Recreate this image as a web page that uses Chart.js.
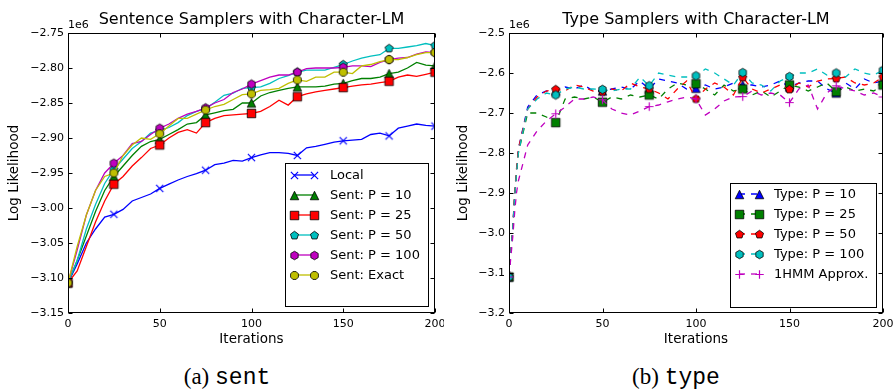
<!DOCTYPE html>
<html>
<head>
<meta charset="utf-8">
<script src="https://cdn.jsdelivr.net/npm/chart.js@4.4.1/dist/chart.umd.min.js"></script>
<style>
body { margin: 0; background: #fff; width: 894px; height: 389px; overflow: hidden; position: relative; }
#c1 { position: absolute; left: 0; top: 0; }
#c2 { position: absolute; left: 450px; top: 0; }
.cap { position: absolute; top: 365px; width: 240px; text-align: center; font-family: "Liberation Serif", serif; font-size: 23px; line-height: 23px; color: #000; }
.cap span { font-family: "Liberation Mono", monospace; }
</style>
</head>
<body>
<canvas id="c1" width="444" height="350"></canvas>
<canvas id="c2" width="444" height="350"></canvas>
<div class="cap" style="left:107px">(a) <span>sent</span></div>
<div class="cap" style="left:556px">(b) <span>type</span></div>
<script>
// values in units of 1e6
const ITERS = [0, 5, 10, 15, 20, 25, 30, 35, 40, 45, 50, 55, 60, 65, 70, 75, 80, 85, 90, 95, 100,
  105, 110, 115, 120, 125, 130, 135, 140, 145, 150, 155, 160, 165, 170, 175, 180, 185, 190, 195, 200];

const SENT_LABELS = ["Local", "Sent: P = 10", "Sent: P = 25", "Sent: P = 50", "Sent: P = 100", "Sent: Exact"];

const sentLocal = [-3.107, -3.080, -3.050, -3.030, -3.013, -3.009, -3.002, -2.990, -2.985, -2.980,
  -2.972, -2.966, -2.960, -2.955, -2.951, -2.946, -2.938, -2.936, -2.932, -2.933,
  -2.928, -2.924, -2.921, -2.921, -2.922, -2.925, -2.914, -2.912, -2.909, -2.906,
  -2.904, -2.903, -2.902, -2.895, -2.893, -2.897, -2.886, -2.883, -2.880, -2.882, -2.883];
const sentP10 = [-3.107, -3.075, -3.040, -3.005, -2.975, -2.955, -2.940, -2.925, -2.912, -2.905,
  -2.902, -2.895, -2.888, -2.880, -2.878, -2.867, -2.864, -2.861, -2.859, -2.850,
  -2.850, -2.840, -2.835, -2.832, -2.829, -2.827, -2.827, -2.827, -2.826, -2.823,
  -2.822, -2.818, -2.815, -2.815, -2.813, -2.808, -2.806, -2.800, -2.792, -2.796, -2.797];
const sentP25 = [-3.107, -3.090, -3.055, -3.020, -2.990, -2.966, -2.955, -2.940, -2.928, -2.915,
  -2.910, -2.900, -2.892, -2.888, -2.893, -2.878, -2.872, -2.868, -2.867, -2.866,
  -2.865, -2.862, -2.855, -2.846, -2.853, -2.841, -2.837, -2.834, -2.832, -2.830,
  -2.828, -2.826, -2.824, -2.823, -2.821, -2.819, -2.813, -2.810, -2.812, -2.809, -2.806];
const sentP50 = [-3.107, -3.075, -3.030, -2.995, -2.965, -2.945, -2.930, -2.915, -2.905, -2.893,
  -2.889, -2.885, -2.878, -2.868, -2.862, -2.858, -2.849, -2.839, -2.836, -2.829,
  -2.828, -2.827, -2.822, -2.815, -2.811, -2.806, -2.803, -2.803, -2.803, -2.799,
  -2.795, -2.790, -2.786, -2.783, -2.781, -2.772, -2.772, -2.770, -2.768, -2.765, -2.768];
const sentP100 = [-3.107, -3.060, -3.010, -2.975, -2.950, -2.936, -2.925, -2.908, -2.905, -2.895,
  -2.886, -2.880, -2.872, -2.866, -2.862, -2.857, -2.850, -2.845, -2.835, -2.830,
  -2.823, -2.818, -2.813, -2.810, -2.810, -2.806, -2.801, -2.800, -2.800, -2.800,
  -2.799, -2.797, -2.797, -2.798, -2.792, -2.788, -2.786, -2.785, -2.780, -2.777, -2.778];
const sentExact = [-3.107, -3.055, -3.010, -2.975, -2.955, -2.950, -2.925, -2.910, -2.900, -2.902,
  -2.894, -2.883, -2.872, -2.872, -2.866, -2.860, -2.855, -2.852, -2.845, -2.838,
  -2.837, -2.832, -2.831, -2.829, -2.822, -2.817, -2.819, -2.813, -2.813, -2.806,
  -2.806, -2.808, -2.797, -2.795, -2.791, -2.788, -2.788, -2.785, -2.781, -2.778, -2.778];

const TYPE_ITERS = [0, 1, 2, 3, 4, 5, 10, 15, 20, 25, 30, 35, 40, 45, 50, 55, 60, 65, 70, 75, 80, 85, 90, 95, 100,
  105, 110, 115, 120, 125, 130, 135, 140, 145, 150, 155, 160, 165, 170, 175, 180, 185, 190, 195, 200];

const TYPE_LABELS = ["Type: P = 10", "Type: P = 25", "Type: P = 50", "Type: P = 100", "1HMM Approx."];

const typeP10 = [-3.11, -3.05, -2.99, -2.91, -2.85, -2.79,
  -2.685, -2.655, -2.645, -2.645, -2.635, -2.640, -2.630, -2.645, -2.645, -2.640, -2.635, -2.640, -2.620, -2.640,
  -2.615, -2.620, -2.625, -2.640, -2.638, -2.630, -2.640, -2.635, -2.625, -2.630, -2.630, -2.635, -2.630, -2.620,
  -2.635, -2.625, -2.620, -2.620, -2.640, -2.650, -2.625, -2.640, -2.615, -2.625, -2.620];
const typeP25 = [-3.11, -3.05, -2.99, -2.91, -2.85, -2.80,
  -2.700, -2.700, -2.710, -2.724, -2.665, -2.660, -2.665, -2.660, -2.673, -2.660, -2.665, -2.655, -2.660, -2.655,
  -2.665, -2.640, -2.625, -2.630, -2.627, -2.640, -2.655, -2.630, -2.645, -2.640, -2.655, -2.645, -2.660, -2.645,
  -2.630, -2.635, -2.645, -2.635, -2.625, -2.647, -2.635, -2.645, -2.640, -2.645, -2.630];
const typeP50 = [-3.11, -3.05, -2.99, -2.90, -2.84, -2.79,
  -2.690, -2.660, -2.645, -2.641, -2.645, -2.630, -2.635, -2.645, -2.647, -2.640, -2.645, -2.625, -2.635, -2.640,
  -2.650, -2.665, -2.640, -2.620, -2.665, -2.640, -2.625, -2.635, -2.655, -2.611, -2.640, -2.650, -2.640, -2.630,
  -2.641, -2.625, -2.635, -2.620, -2.615, -2.614, -2.610, -2.625, -2.630, -2.625, -2.610];
const typeP100 = [-3.11, -3.05, -2.99, -2.91, -2.85, -2.80,
  -2.690, -2.665, -2.650, -2.655, -2.640, -2.635, -2.640, -2.640, -2.641, -2.645, -2.640, -2.640, -2.610, -2.632,
  -2.600, -2.605, -2.610, -2.610, -2.607, -2.590, -2.600, -2.615, -2.630, -2.599, -2.625, -2.630, -2.645, -2.620,
  -2.609, -2.600, -2.600, -2.590, -2.605, -2.600, -2.610, -2.590, -2.600, -2.605, -2.593];
const typeHmm = [-3.11, -3.06, -3.01, -2.95, -2.90, -2.87,
  -2.780, -2.745, -2.720, -2.702, -2.685, -2.665, -2.665, -2.660, -2.667, -2.690, -2.700, -2.705, -2.695, -2.684,
  -2.680, -2.672, -2.665, -2.660, -2.665, -2.705, -2.690, -2.670, -2.660, -2.659, -2.645, -2.655, -2.650, -2.655,
  -2.674, -2.640, -2.630, -2.690, -2.650, -2.632, -2.640, -2.645, -2.655, -2.650, -2.660];

Chart.defaults.font.family = "DejaVu Sans";
Chart.defaults.color = "#000";

// little marker pictures, matplotlib style
function makeMarker(shape, fill, size) {
  const s = Math.ceil(size) + 4;
  const c = document.createElement("canvas");
  c.width = s; c.height = s;
  const g = c.getContext("2d");
  const r = size / 2;
  g.translate(s / 2, s / 2);
  if (shape === "x" || shape === "+") {
    g.strokeStyle = fill;
    g.lineWidth = 1.2;
    if (shape === "x") g.rotate(Math.PI / 4);
    const rr = shape === "x" ? r * 1.2 : r;
    g.beginPath();
    g.moveTo(-rr, 0); g.lineTo(rr, 0);
    g.moveTo(0, -rr); g.lineTo(0, rr);
    g.stroke();
    return c;
  }
  g.beginPath();
  if (shape === "^") {
    g.moveTo(0, -r); g.lineTo(r, r); g.lineTo(-r, r);
  } else if (shape === "s") {
    g.rect(-r, -r, 2 * r, 2 * r);
  } else {
    let n = 5, start = -Math.PI / 2;
    if (shape === "h") n = 6;
    if (shape === "8") { n = 8; start += Math.PI / 8; }
    for (let i = 0; i < n; i++) {
      const a = start + i * 2 * Math.PI / n;
      if (i === 0) g.moveTo(r * Math.cos(a), r * Math.sin(a));
      else g.lineTo(r * Math.cos(a), r * Math.sin(a));
    }
  }
  g.closePath();
  g.fillStyle = fill;
  g.fill();
  g.strokeStyle = "#000";
  g.lineWidth = 0.8;
  g.stroke();
  return c;
}

const sentColors = ["#0000ff", "#008000", "#ff0000", "#00bfbf", "#bf00bf", "#bfbf00"];
const sentShapes = ["x", "^", "s", "p", "h", "8"];
const typeColors = ["#0000ff", "#008000", "#ff0000", "#00bfbf", "#bf00bf"];
const typeShapes = ["^", "s", "p", "h", "+"];

function fmtMinus(v, d) {
  return v.toFixed(d).replace("-", "\u2212");
}

const framePlugin = {
  id: "frame",
  afterDatasetsDraw(chart, args, opts) {
    const ctx = chart.ctx;
    const a = chart.chartArea;
    const xs = chart.scales.x, ys = chart.scales.y;
    ctx.save();
    ctx.strokeStyle = "#000";
    ctx.lineWidth = 1;
    const L = Math.round(a.left) + 0.5, R = Math.round(a.right) - 0.5;
    const T = Math.round(a.top) + 0.5, B = Math.round(a.bottom) - 0.5;
    ctx.strokeRect(L, T, R - L, B - T);
    ctx.beginPath();
    xs.ticks.forEach(t => {
      const px = Math.round(xs.getPixelForValue(t.value)) + 0.5;
      ctx.moveTo(px, B); ctx.lineTo(px, B - 4);
      ctx.moveTo(px, T); ctx.lineTo(px, T + 4);
    });
    ys.ticks.forEach(t => {
      const py = Math.round(ys.getPixelForValue(t.value)) + 0.5;
      ctx.moveTo(L, py); ctx.lineTo(L + 4, py);
      ctx.moveTo(R, py); ctx.lineTo(R - 4, py);
    });
    ctx.stroke();
    // offset text
    ctx.fillStyle = "#000";
    ctx.font = "11px 'DejaVu Sans'";
    ctx.textBaseline = "middle";
    ctx.textAlign = "left";
    ctx.fillText("1e6", a.left, 25);
    ctx.restore();
  },
  afterDraw(chart, args, opts) {
    const ctx = chart.ctx;
    const a = chart.chartArea;
    const ds = chart.data.datasets;
    ctx.save();
    ctx.font = "13px 'DejaVu Sans'";
    let maxW = 0;
    ds.forEach(d => { maxW = Math.max(maxW, ctx.measureText(d.label).width); });
    const w = opts.textX + maxW + 8;
    const h = opts.padTop + ds.length * 20 + opts.padBottom;
    const bx = Math.round(a.right - opts.inset - w);
    const by = Math.round(a.bottom - opts.insetB - h);
    ctx.fillStyle = "#fff";
    ctx.fillRect(bx, by, w, h);
    ctx.strokeStyle = "#000";
    ctx.lineWidth = 1;
    ctx.strokeRect(bx + 0.5, by + 0.5, Math.round(w), Math.round(h));
    ds.forEach((d, i) => {
      const y = by + opts.padTop + i * 20;
      ctx.strokeStyle = d.borderColor;
      ctx.lineWidth = d.borderWidth;
      ctx.setLineDash(d.borderDash || []);
      ctx.beginPath();
      ctx.moveTo(bx + 9, y); ctx.lineTo(bx + 29, y);
      ctx.stroke();
      ctx.setLineDash([]);
      const m = opts.markers[i];
      ctx.drawImage(m, Math.round(bx + 9 - m.width / 2), Math.round(y - m.height / 2));
      ctx.drawImage(m, Math.round(bx + 29 - m.width / 2), Math.round(y - m.height / 2));
      ctx.fillStyle = "#000";
      ctx.textBaseline = "middle";
      ctx.textAlign = "left";
      ctx.fillText(d.label, bx + opts.textX, y + 1);
    });
    ctx.restore();
  }
};

function buildChart(id, cfg) {
  const markers = cfg.colors.map((c, i) => makeMarker(cfg.shapes[i], c, 8.5));
  const n = cfg.series.length;
  const datasets = cfg.series.map((vals, i) => ({
    label: cfg.labels[i],
    data: vals.map((v, k) => ({ x: cfg.iters[k], y: v })),
    borderColor: cfg.colors[i],
    borderWidth: 1.3,
    borderDash: cfg.dash,
    tension: 0,
    fill: false,
    order: n - i,
    pointStyle: markers[i],
    pointRadius: ctx => (cfg.iters[ctx.dataIndex] % 25 === 0 ? 4 : 0),
    pointHoverRadius: 0
  }));
  return new Chart(document.getElementById(id), {
    type: "line",
    data: { datasets },
    plugins: [framePlugin],
    options: {
      responsive: false,
      animation: false,
      devicePixelRatio: 1,
      events: [],
      layout: { padding: { left: 0, right: cfg.padRight, top: 0, bottom: 0 } },
      plugins: {
        legend: { display: false },
        tooltip: { enabled: false },
        title: {
          display: true,
          text: cfg.title,
          fullSize: false,
          color: "#000",
          font: { size: 16, weight: "normal" },
          padding: { top: 10, bottom: 3.8 }
        },
        frame: {
          markers,
          textX: cfg.textX,
          padTop: cfg.padTop,
          padBottom: cfg.padBottom,
          inset: 7,
          insetB: cfg.insetB
        }
      },
      scales: {
        x: {
          type: "linear",
          min: 0, max: 200,
          grid: { display: false, drawTicks: false },
          border: { display: false },
          ticks: { stepSize: 50, padding: 5, maxRotation: 0, autoSkip: false, font: { size: 11 }, color: "#000" },
          title: { display: true, text: "Iterations", font: { size: 13.5 }, color: "#000", padding: { top: 0, bottom: 2 } },
          afterFit: s => { s.height = 37; s.paddingLeft = 0; s.paddingRight = 0; }
        },
        y: {
          min: cfg.yMin, max: cfg.yMax,
          grid: { display: false, drawTicks: false },
          border: { display: false },
          ticks: {
            stepSize: cfg.yStep, padding: 4, autoSkip: false, font: { size: 11 }, color: "#000",
            callback: v => fmtMinus(v, cfg.yDec)
          },
          title: { display: true, text: "Log Likelihood", font: { size: 13.5 }, color: "#000", padding: { top: cfg.yTitlePad, bottom: 0 } },
          afterFit: s => { s.width = cfg.yWidth; s.paddingTop = 0; s.paddingBottom = 0; }
        }
      }
    }
  });
}

buildChart("c1", {
  title: "Sentence Samplers with Character-LM",
  iters: ITERS,
  labels: SENT_LABELS,
  series: [sentLocal, sentP10, sentP25, sentP50, sentP100, sentExact],
  colors: sentColors,
  shapes: sentShapes,
  dash: [],
  yMin: -3.15, yMax: -2.75, yStep: 0.05, yDec: 2,
  yWidth: 68, yTitlePad: 6, padRight: 9,
  textX: 45, padTop: 12, padBottom: 11, insetB: 7
});

buildChart("c2", {
  title: "Type Samplers with Character-LM",
  iters: TYPE_ITERS,
  labels: TYPE_LABELS,
  series: [typeP10, typeP25, typeP50, typeP100, typeHmm],
  colors: typeColors,
  shapes: typeShapes,
  dash: [6, 6],
  yMin: -3.2, yMax: -2.5, yStep: 0.1, yDec: 1,
  yWidth: 59, yTitlePad: 5, padRight: 11,
  textX: 44, padTop: 11, padBottom: 13, insetB: 6
});
</script>
</body>
</html>
